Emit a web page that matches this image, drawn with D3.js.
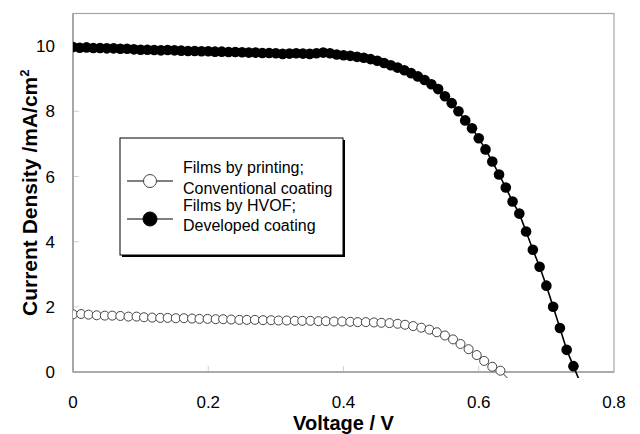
<!DOCTYPE html>
<html>
<head>
<meta charset="utf-8">
<script src="https://cdn.jsdelivr.net/npm/d3@7"></script>
<style>
  body { margin: 0; background: #fff; }
  svg { display: block; font-family: "Liberation Sans", Arial, sans-serif; }
</style>
</head>
<body>
<div id="chart"></div>
<script>
// HVOF (developed coating) - filled markers
const voltageHVOF = [0.00, 0.01, 0.02, 0.03, 0.04, 0.05, 0.06, 0.07, 0.08, 0.09,
  0.10, 0.11, 0.12, 0.13, 0.14, 0.15, 0.16, 0.17, 0.18, 0.19,
  0.20, 0.21, 0.22, 0.23, 0.24, 0.25, 0.26, 0.27, 0.28, 0.29,
  0.30, 0.31, 0.32, 0.33, 0.34, 0.35, 0.36, 0.37, 0.38, 0.39,
  0.40, 0.41, 0.42, 0.43, 0.44, 0.45, 0.46, 0.47, 0.48, 0.49,
  0.50, 0.51, 0.52, 0.53, 0.54, 0.55, 0.56, 0.57, 0.58, 0.59,
  0.60, 0.61, 0.62, 0.63, 0.64, 0.65, 0.66, 0.67, 0.68, 0.69,
  0.70, 0.71, 0.72, 0.73, 0.74, 0.75];
const currentHVOF = [9.97, 9.95, 9.96, 9.94, 9.94, 9.93, 9.93, 9.92, 9.92, 9.90,
  9.89, 9.89, 9.88, 9.87, 9.88, 9.87, 9.86, 9.85, 9.85, 9.84,
  9.84, 9.83, 9.83, 9.82, 9.82, 9.81, 9.80, 9.80, 9.79, 9.79,
  9.78, 9.76, 9.77, 9.78, 9.77, 9.76, 9.78, 9.80, 9.78, 9.74,
  9.72, 9.70, 9.67, 9.64, 9.60, 9.55, 9.48, 9.41, 9.34, 9.26,
  9.17, 9.07, 8.96, 8.83, 8.68, 8.46, 8.25, 8.00, 7.72, 7.48,
  7.17, 6.83, 6.46, 6.06, 5.66, 5.23, 4.86, 4.31, 3.75, 3.23,
  2.65, 2.00, 1.35, 0.68, 0.18, -0.32];

// printing (conventional coating) - open markers
const voltagePrint = [0.000, 0.012, 0.023, 0.035, 0.047, 0.058, 0.070, 0.082, 0.094, 0.105,
  0.117, 0.129, 0.140, 0.152, 0.164, 0.176, 0.187, 0.199, 0.211, 0.222,
  0.234, 0.246, 0.257, 0.269, 0.281, 0.293, 0.304, 0.316, 0.328, 0.339,
  0.351, 0.363, 0.374, 0.386, 0.398, 0.410, 0.421, 0.433, 0.445, 0.456,
  0.468, 0.480, 0.491, 0.503, 0.515, 0.527, 0.538, 0.550, 0.562, 0.573,
  0.585, 0.597, 0.608, 0.620, 0.632, 0.643];
const currentPrint = [1.77, 1.78, 1.76, 1.74, 1.73, 1.73, 1.72, 1.70, 1.70, 1.68,
  1.67, 1.66, 1.66, 1.65, 1.65, 1.64, 1.63, 1.63, 1.62, 1.62,
  1.61, 1.60, 1.60, 1.60, 1.59, 1.59, 1.58, 1.58, 1.57, 1.57,
  1.57, 1.56, 1.56, 1.55, 1.55, 1.54, 1.53, 1.53, 1.52, 1.51,
  1.50, 1.48, 1.45, 1.41, 1.36, 1.30, 1.22, 1.12, 1.00, 0.86,
  0.70, 0.52, 0.34, 0.16, 0.04, -0.20];

const xTicks = [0, 0.2, 0.4, 0.6, 0.8];
const yTicks = [0, 2, 4, 6, 8, 10];
const legendLabels = [
  ["Films by printing;", "Conventional coating"],
  ["Films by HVOF;", "Developed coating"]
];

const W = 640, H = 434;
const margin = { top: 13.5, right: 26, bottom: 62, left: 73 };
const innerW = W - margin.left - margin.right;
const innerH = H - margin.top - margin.bottom;

const svg = d3.select("#chart").append("svg")
  .attr("width", W)
  .attr("height", H);

const x = d3.scaleLinear().domain([0, 0.8]).range([margin.left, margin.left + innerW]);
const y = d3.scaleLinear().domain([0, 11]).range([margin.top + innerH, margin.top]);

// clip (lines run a little below the axis like the original)
svg.append("clipPath").attr("id", "plotClip")
  .append("rect")
  .attr("x", margin.left).attr("y", margin.top)
  .attr("width", innerW).attr("height", innerH + 6);

// plot frame
svg.append("rect")
  .attr("x", margin.left).attr("y", margin.top)
  .attr("width", innerW).attr("height", innerH)
  .attr("fill", "none")
  .attr("stroke", "#a6a6a6")
  .attr("stroke-width", 1.2);

// inward ticks
svg.append("g")
  .selectAll("line")
  .data(yTicks.slice(1))
  .join("line")
  .attr("x1", margin.left).attr("x2", margin.left + 6)
  .attr("y1", d => y(d)).attr("y2", d => y(d))
  .attr("stroke", "#d0d0d0");

svg.append("g")
  .selectAll("line")
  .data(xTicks.slice(1, -1))
  .join("line")
  .attr("x1", d => x(d)).attr("x2", d => x(d))
  .attr("y1", y(0)).attr("y2", y(0) - 6)
  .attr("stroke", "#d0d0d0");

// axis lines (left & bottom, a bit heavier)
svg.append("line")
  .attr("x1", margin.left).attr("x2", margin.left)
  .attr("y1", margin.top).attr("y2", y(0))
  .attr("stroke", "#a0a0a0").attr("stroke-width", 1.6);
svg.append("line")
  .attr("x1", margin.left).attr("x2", margin.left + innerW)
  .attr("y1", y(0)).attr("y2", y(0))
  .attr("stroke", "#a0a0a0").attr("stroke-width", 1.6);

// tick labels
svg.append("g")
  .selectAll("text")
  .data(yTicks)
  .join("text")
  .attr("x", margin.left - 18)
  .attr("y", d => y(d))
  .attr("dy", "0.36em")
  .attr("text-anchor", "end")
  .attr("font-size", 17)
  .attr("fill", "#000")
  .text(d => d);

svg.append("g")
  .selectAll("text")
  .data(xTicks)
  .join("text")
  .attr("x", d => x(d))
  .attr("y", y(0) + 36)
  .attr("text-anchor", "middle")
  .attr("font-size", 17)
  .attr("fill", "#000")
  .text(d => d);

// axis titles
svg.append("text")
  .attr("x", margin.left + innerW / 2)
  .attr("y", 429.5)
  .attr("text-anchor", "middle")
  .attr("font-size", 20)
  .attr("font-weight", "bold")
  .text("Voltage / V");

const yTitle = svg.append("text")
  .attr("transform", `translate(37,${margin.top + innerH / 2}) rotate(-90)`)
  .attr("text-anchor", "middle")
  .attr("font-size", 21)
  .attr("font-weight", "bold");
yTitle.append("tspan").text("Current Density /mA/cm");
yTitle.append("tspan").attr("font-size", 13).attr("dy", -8).text("2");

// series
const printData = voltagePrint.map((v, i) => ({ v, j: currentPrint[i] }));
const hvofData = voltageHVOF.map((v, i) => ({ v, j: currentHVOF[i] }));

const line = d3.line().x(d => x(d.v)).y(d => y(d.j));

const plot = svg.append("g").attr("clip-path", "url(#plotClip)");

plot.append("path")
  .datum(printData)
  .attr("d", line)
  .attr("fill", "none")
  .attr("stroke", "#333")
  .attr("stroke-width", 1);

plot.selectAll(".open")
  .data(printData.filter(d => d.j >= 0))
  .join("circle")
  .attr("class", "open")
  .attr("cx", d => x(d.v))
  .attr("cy", d => y(d.j))
  .attr("r", 4.5)
  .attr("fill", "#fff")
  .attr("stroke", "#444")
  .attr("stroke-width", 1);

plot.append("path")
  .datum(hvofData)
  .attr("d", line)
  .attr("fill", "none")
  .attr("stroke", "#000")
  .attr("stroke-width", 1.6);

plot.selectAll(".filled")
  .data(hvofData.filter(d => d.j >= 0))
  .join("circle")
  .attr("class", "filled")
  .attr("cx", d => x(d.v))
  .attr("cy", d => y(d.j))
  .attr("r", 5.3)
  .attr("fill", "#000");

// legend
const lg = svg.append("g");
lg.append("rect")
  .attr("x", 122).attr("y", 140)
  .attr("width", 223).attr("height", 117)
  .attr("fill", "#000");
lg.append("rect")
  .attr("x", 120).attr("y", 138)
  .attr("width", 223).attr("height", 117)
  .attr("fill", "#fff")
  .attr("stroke", "#000")
  .attr("stroke-width", 1);

const entryY = [181, 219];
const textY = [[173, 194], [211, 231]];

legendLabels.forEach((lbl, i) => {
  lg.append("line")
    .attr("x1", 127).attr("x2", 173)
    .attr("y1", entryY[i]).attr("y2", entryY[i])
    .attr("stroke", "#000").attr("stroke-width", 1.2);
  lg.append("circle")
    .attr("cx", 150).attr("cy", entryY[i])
    .attr("r", i === 0 ? 6.5 : 7)
    .attr("fill", i === 0 ? "#fff" : "#000")
    .attr("stroke", i === 0 ? "#444" : "#000")
    .attr("stroke-width", 1);
  lbl.forEach((t, k) => {
    lg.append("text")
      .attr("x", 183).attr("y", textY[i][k])
      .attr("font-size", 16)
      .text(t);
  });
});
</script>
</body>
</html>
